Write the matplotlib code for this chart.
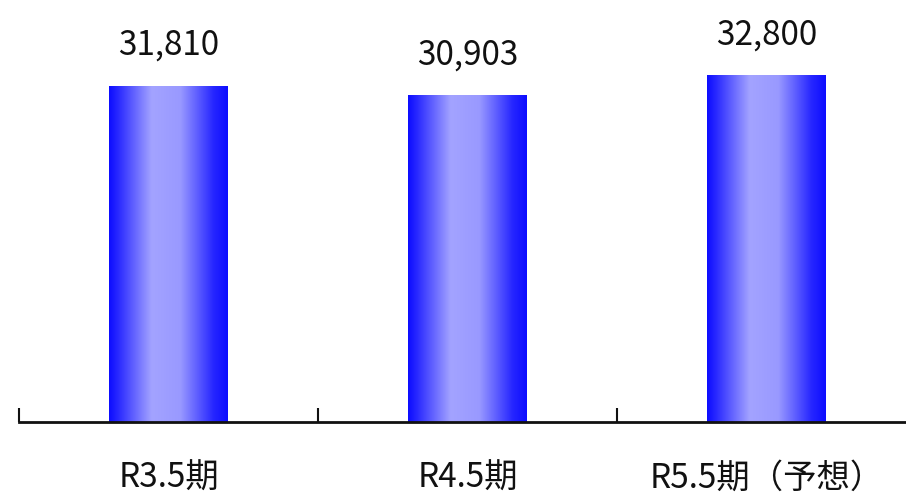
import numpy as np
import matplotlib.pyplot as plt
from matplotlib.colors import LinearSegmentedColormap

plt.rcParams['font.family'] = ['Noto Sans CJK JP', 'DejaVu Sans']

periods = ['R3.5期', 'R4.5期', 'R5.5期（予想）']
values = [31810, 30903, 32800]

# horizontal shading for the bars: blue at the edges, pale in the middle
bar_cmap = LinearSegmentedColormap.from_list('bar_shade', [
    (0.00, (0.05, 0.05, 1.0)),
    (0.07, (0.15, 0.15, 1.0)),
    (0.36, (0.64, 0.64, 1.0)),
    (0.60, (0.60, 0.60, 1.0)),
    (0.88, (0.15, 0.15, 1.0)),
    (1.00, (0.05, 0.05, 1.0)),
])

fig = plt.figure(figsize=(9.06, 4.97), dpi=100)
ax = fig.add_axes([19 / 906, 75 / 497, 887 / 906, 422 / 497])

x = np.arange(len(values))
bar_w = 0.395
shade = np.linspace(0, 1, 256).reshape(1, -1)

bars = ax.bar(x, values, width=bar_w, color='none', edgecolor='none')
for b, v in zip(bars, values):
    x0 = b.get_x()
    ax.imshow(shade, cmap=bar_cmap, aspect='auto', interpolation='bicubic',
              extent=(x0, x0 + bar_w, 0, v), zorder=2)
    ax.annotate(f'{v:,}', (b.get_x() + bar_w / 2, v), xytext=(0, 17),
                textcoords='offset points', ha='center', va='bottom',
                fontsize=24, color='#111111')

for s in ['top', 'right', 'left']:
    ax.spines[s].set_visible(False)
ax.spines['bottom'].set_linewidth(2)
ax.spines['bottom'].set_color('#111111')

ax.set_yticks([])
ax.set_xticks(x)
ax.set_xticklabels(periods, fontsize=24, color='#111111')
ax.tick_params(axis='x', which='major', length=0, pad=28)
ax.set_xticks(np.arange(-0.5, len(values), 1.0), minor=True)
ax.tick_params(axis='x', which='minor', direction='in', length=10,
               width=1.5, color='#111111')

# limits last, so the minor ticks don't widen the view
ax.set_xlim(-0.5, -0.5 + 887 / 299)
ax.set_ylim(0, 40000)

fig.savefig('out.png', dpi=100)
